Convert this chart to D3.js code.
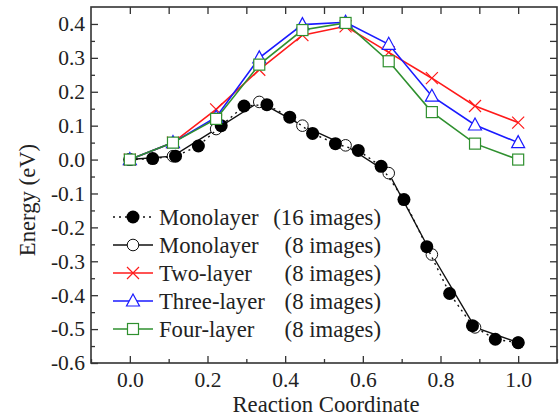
<!DOCTYPE html>
<meta charset="utf-8">
<title>Reaction path energy</title>
<head>
  <script src="https://d3js.org/d3.v7.min.js"></script>
  <style>
    body { margin: 0; background: #fff; }
    svg text { font-family: "Liberation Serif", "Times New Roman", Times, serif; fill: #222; }
  </style>
</head>
<body>
  <div id="chart"></div>
  <script>
    // reaction coordinate for the 8-image runs (10 points) and the 16-image run (18 points)
    var coord8 = [0, 1/9, 2/9, 3/9, 4/9, 5/9, 6/9, 7/9, 8/9, 1];
    var coord16 = d3.range(18).map(function(k) { return k / 17; });

    var mono16 = [0, 0.003, 0.01, 0.04, 0.10, 0.158, 0.162, 0.125, 0.077, 0.047, 0.027, -0.02, -0.118, -0.257, -0.395, -0.49, -0.53, -0.54];
    var mono8 = [0, 0.01, 0.09, 0.17, 0.10, 0.042, -0.04, -0.28, -0.495, -0.54];
    var twoLayer = [0, 0.05, 0.148, 0.265, 0.367, 0.393, 0.316, 0.24, 0.158, 0.109];
    var threeLayer = [0, 0.05, 0.125, 0.30, 0.398, 0.405, 0.34, 0.187, 0.102, 0.05];
    var fourLayer = [0, 0.05, 0.12, 0.28, 0.382, 0.403, 0.29, 0.14, 0.047, 0];

    var seriesNames = ["Monolayer", "Monolayer", "Two-layer", "Three-layer", "Four-layer"];
    var seriesImages = ["(16 images)", "(8 images)", "(8 images)", "(8 images)", "(8 images)"];

    var xTicks = [0, 0.2, 0.4, 0.6, 0.8, 1.0];
    var yTicks = [-0.6, -0.5, -0.4, -0.3, -0.2, -0.1, 0, 0.1, 0.2, 0.3, 0.4];

    var width = 559, height = 416;
    var plotL = 91, plotR = 557, plotT = 7, plotB = 363;
    var serif = "'Liberation Serif', 'Times New Roman', Times, serif";

    var svg = d3.select("#chart").append("svg")
      .attr("width", width)
      .attr("height", height)
      .attr("font-family", serif);

    var x = d3.scaleLinear().domain([-0.1, 1.1]).range([plotL, plotR]);
    var y = d3.scaleLinear().domain([-0.6, 0.45]).range([plotB, plotT]);
    var fmt = function(d) { return d.toFixed(1); };
    var axisColor = "#333";

    // inward ticks, major + minor
    function styleAxis(g) {
      g.attr("font-family", serif);
      g.select(".domain").remove();
      g.selectAll("line").attr("stroke", axisColor).attr("stroke-width", 1.3);
      g.selectAll("text").attr("fill", "#222").style("font-size", "21.5px");
    }

    var xMinor = [-0.1, 0.1, 0.3, 0.5, 0.7, 0.9, 1.1];
    var yMinor = yTicks.map(function(d) { return d + 0.05; }).filter(function(d) { return d < 0.45; });

    svg.append("g").attr("transform", "translate(0," + plotB + ")")
      .call(d3.axisBottom(x).tickValues(xMinor).tickSizeInner(-4).tickFormat(""))
      .call(styleAxis);
    svg.append("g").attr("transform", "translate(0," + plotB + ")")
      .call(d3.axisBottom(x).tickValues(xTicks).tickSizeInner(-7).tickPadding(9).tickFormat(fmt))
      .call(styleAxis);

    svg.append("g").attr("transform", "translate(" + plotL + ",0)")
      .call(d3.axisLeft(y).tickValues(yMinor).tickSizeInner(-4).tickFormat(""))
      .call(styleAxis);
    svg.append("g").attr("transform", "translate(" + plotL + ",0)")
      .call(d3.axisLeft(y).tickValues(yTicks).tickSizeInner(-7).tickPadding(6).tickFormat(fmt))
      .call(styleAxis);

    // top and right: plain ticks, no labels
    svg.append("g").attr("transform", "translate(0," + plotT + ")")
      .call(d3.axisTop(x).tickValues(xTicks.concat([0.1, 0.3, 0.5, 0.7, 0.9])).tickSizeInner(-7).tickFormat(""))
      .call(styleAxis);
    svg.append("g").attr("transform", "translate(" + plotR + ",0)")
      .call(d3.axisRight(y).tickValues(yTicks.concat(yMinor).filter(function(d) { return d > -0.6; }))
        .tickSizeInner(-7).tickFormat(""))
      .call(styleAxis);

    svg.append("rect")
      .attr("x", plotL).attr("y", plotT)
      .attr("width", plotR - plotL).attr("height", plotB - plotT)
      .attr("fill", "none").attr("stroke", axisColor).attr("stroke-width", 1.6);

    svg.append("text")
      .attr("x", (plotL + plotR) / 2 + 2).attr("y", 412)
      .attr("text-anchor", "middle")
      .style("font-size", "22.7px")
      .text("Reaction Coordinate");

    svg.append("text")
      .attr("transform", "translate(35,200) rotate(-90)")
      .attr("text-anchor", "middle")
      .style("font-size", "22.7px")
      .text("Energy (eV)");

    var line = d3.line()
      .x(function(d) { return x(d[0]); })
      .y(function(d) { return y(d[1]); });

    function pairs(xs, ys) {
      return ys.map(function(v, i) { return [xs[i], v]; });
    }

    var series = [
      { data: pairs(coord8, mono8), color: "#111", dash: null, marker: "openCircle" },
      { data: pairs(coord16, mono16), color: "#111", dash: "2,4", marker: "dot" },
      { data: pairs(coord8, twoLayer), color: "#ff1a1a", dash: null, marker: "cross" },
      { data: pairs(coord8, threeLayer), color: "#1a1aff", dash: null, marker: "triangle" },
      { data: pairs(coord8, fourLayer), color: "#2f902f", dash: null, marker: "square" }
    ];

    function drawMarker(g, kind, color) {
      if (kind === "dot") {
        g.append("circle").attr("r", 6.5).attr("fill", "#000");
      } else if (kind === "openCircle") {
        g.append("circle").attr("r", 5.8).attr("fill", "#fff").attr("stroke", color).attr("stroke-width", 1);
      } else if (kind === "cross") {
        g.append("path").attr("d", "M-6,-6L6,6M-6,6L6,-6").attr("stroke", color).attr("stroke-width", 1.2).attr("fill", "none");
      } else if (kind === "triangle") {
        g.append("path").attr("d", "M0,-7L6.5,5L-6.5,5Z").attr("fill", "#fff").attr("stroke", color).attr("stroke-width", 1.2);
      } else if (kind === "square") {
        g.append("rect").attr("x", -5.5).attr("y", -5.5).attr("width", 11).attr("height", 11)
          .attr("fill", "#fff").attr("stroke", color).attr("stroke-width", 1.2);
      }
    }

    series.forEach(function(s) {
      svg.append("path")
        .datum(s.data)
        .attr("d", line)
        .attr("fill", "none")
        .attr("stroke", s.color)
        .attr("stroke-width", s.marker === "dot" || s.marker === "openCircle" ? 1.4 : 1.6)
        .attr("stroke-dasharray", s.dash);
      s.data.forEach(function(d) {
        var g = svg.append("g").attr("transform", "translate(" + x(d[0]) + "," + y(d[1]) + ")");
        drawMarker(g, s.marker, s.color);
      });
    });

    // legend, same order as the reference
    var legendOrder = [1, 0, 2, 3, 4];
    legendOrder.forEach(function(si, i) {
      var s = series[si];
      var cy = 217 + i * 28;
      var g = svg.append("g");
      g.append("line")
        .attr("x1", 113).attr("x2", 153).attr("y1", cy).attr("y2", cy)
        .attr("stroke", s.color).attr("stroke-width", 1.4)
        .attr("stroke-dasharray", s.dash);
      drawMarker(g.append("g").attr("transform", "translate(133," + cy + ")"), s.marker, s.color);
      g.append("text").attr("x", 159).attr("y", cy + 8).style("font-size", "22.7px").text(seriesNames[i]);
      g.append("text").attr("x", 381).attr("y", cy + 8).attr("text-anchor", "end").style("font-size", "22.7px").text(seriesImages[i]);
    });
  </script>
</body>
